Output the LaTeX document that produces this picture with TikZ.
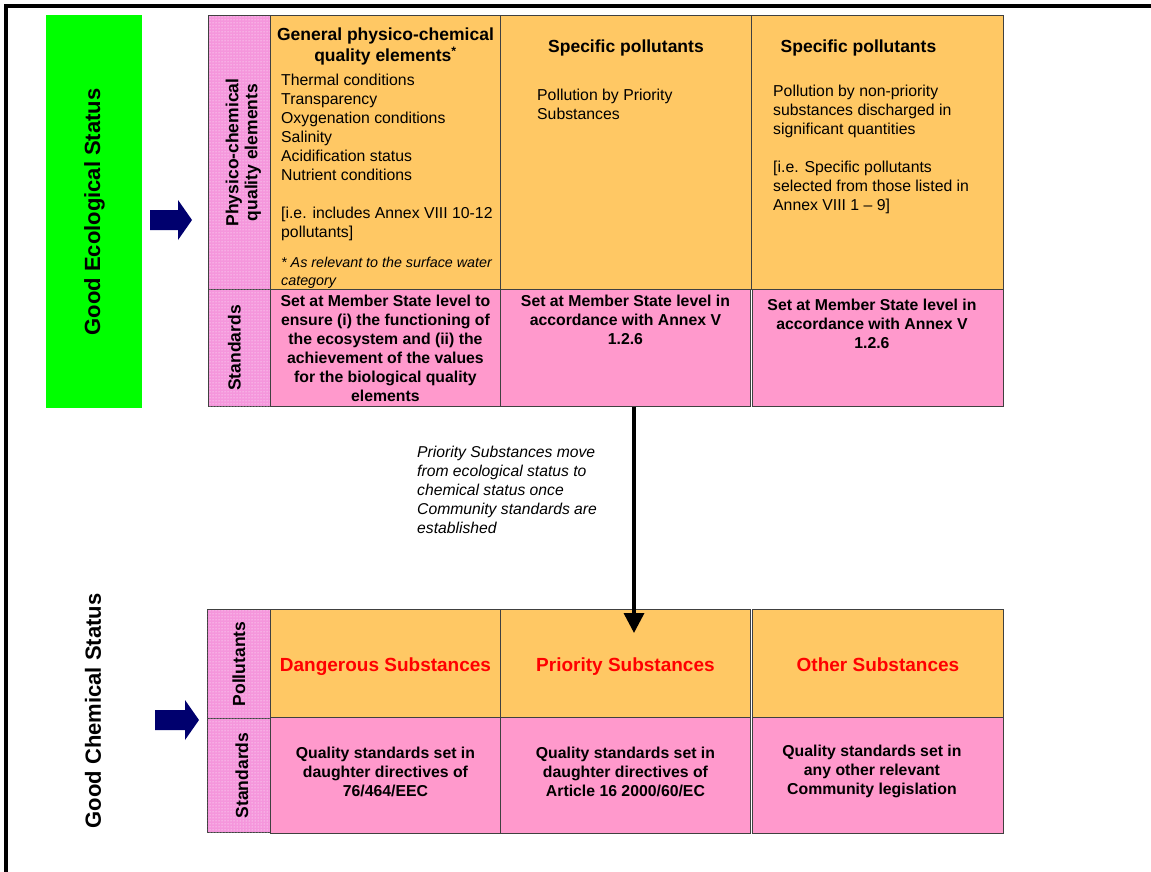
\documentclass[tikz,border=0pt]{standalone}
\usepackage{fontspec}
\setmainfont{Liberation Sans}
\usetikzlibrary{positioning,arrows.meta,patterns}

\definecolor{cellorange}{RGB}{255,200,100}
\definecolor{cellpink}{RGB}{255,153,204}
\definecolor{labpink}{RGB}{245,150,220}
\definecolor{navyarrow}{RGB}{0,0,110}
\definecolor{statusgreen}{RGB}{0,255,0}

\begin{document}
\begin{tikzpicture}[x=1pt,y=-1pt,
  cell/.style={draw=black!75,line width=0.9pt,anchor=north west,inner sep=0pt},
  ele/.style={cell,fill=cellorange},
  std/.style={cell,fill=cellpink},
  lab/.style={cell,fill=labpink,postaction={pattern=dots,pattern color=white}},
  labtxt/.style={rotate=90,font=\fontsize{17.5}{19}\selectfont\bfseries,align=center,inner sep=0pt},
  hd/.style={font=\fontsize{17.5}{21}\selectfont\bfseries,align=center,inner sep=0pt},
  body/.style={font=\fontsize{15.8}{19}\selectfont,align=left,inner sep=0pt},
  stdtxt/.style={font=\fontsize{15.8}{19}\selectfont\bfseries,align=center,inner sep=0pt},
  subst/.style={font=\fontsize{19}{23}\selectfont\bfseries,text=red,inner sep=0pt},
  status/.style={rotate=90,font=\fontsize{22}{26}\selectfont\bfseries,inner sep=0pt},
  note/.style={font=\fontsize{15.7}{19}\selectfont\itshape,align=left,anchor=north west,inner sep=0pt},
  blk/.style={fill=navyarrow},
  movearr/.style={-{Triangle[length=20pt,width=20pt]},line width=3.5pt}
]
\useasboundingbox (0,0) rectangle (1151,872);
\draw[line width=4pt] (6,872) |- (1151,6.5);

%% ---- ecological status: side bar and arrow ------------------------------
\node[cell,draw=none,fill=statusgreen,minimum width=96pt,minimum height=393pt] (eco) at (46,15) {};
\node[status] (ecotxt) at (eco.center) {Good Ecological Status};
\coordinate (a1) at (150,220);
\fill[blk] (a1) ++(0,-10) -- ++(28,0) -- ++(0,-10) -- ++(14,20) -- ++(-14,20) -- ++(0,-10) -- ++(-28,0) -- cycle;

%% ---- ecological table, row 1: quality elements --------------------------
\node[lab,minimum width=62pt,minimum height=274pt]  (lab1) at (208,15) {};
\node[ele,minimum width=230pt,minimum height=274pt] (e1)   at (270,15) {};
\node[ele,minimum width=251pt,minimum height=274pt] (e2)   at (500,15) {};
\node[ele,minimum width=252pt,minimum height=274pt] (e3)   at (751,15) {};
\node[labtxt,yshift=-4pt] at (lab1.center) {Physico-chemical\\quality elements};

\node[hd,below=12.5pt of e1.north] (e1h) {General physico-chemical\\quality elements\textsuperscript{*}};
\node[body,below right=59pt and 11pt of e1.north west] (e1b)
  {Thermal conditions\\Transparency\\Oxygenation conditions\\Salinity\\Acidification status\\Nutrient conditions\\[19pt][i.e. includes Annex VIII 10-12\\pollutants]};
\node[body,font=\fontsize{14.3}{18}\selectfont\itshape,below right=242pt and 11pt of e1.north west] (e1n)
  {* As relevant to the surface water\\category};

\node[hd,below=25pt of e2.north] (e2h) {Specific pollutants};
\node[body,below right=74pt and 37pt of e2.north west] (e2b) {Pollution by Priority\\Substances};

\node[hd,below=25pt of e3.north,xshift=-19pt] (e3h) {Specific pollutants};
\node[body,below right=70pt and 22pt of e3.north west] (e3b)
  {Pollution by non-priority\\substances discharged in\\significant quantities\\[19pt][i.e. Specific pollutants\\selected from those listed in\\Annex VIII 1 -- 9]};

%% ---- ecological table, row 2: standards ---------------------------------
\node[lab,minimum width=62pt,minimum height=117pt]  (lab2) at (208,289) {};
\node[std,minimum width=230pt,minimum height=117pt] (s1)   at (270,289) {};
\node[std,minimum width=250pt,minimum height=117pt] (s2)   at (500,289) {};
\node[std,minimum width=251pt,minimum height=117pt] (s3)   at (752,289) {};
\node[labtxt,yshift=5pt] at (lab2.center) {Standards};

\node[stdtxt,below=6pt of s1.north] (s1t)
  {Set at Member State level to\\ensure (i) the functioning of\\the ecosystem and (ii) the\\achievement of the values\\for the biological quality\\elements};
\node[stdtxt,below=6pt of s2.north] (s2t) {Set at Member State level in\\accordance with Annex V\\1.2.6};
\node[stdtxt,below=10pt of s3.north,xshift=-6pt] (s3t) {Set at Member State level in\\accordance with Annex V\\1.2.6};

%% ---- priority substances move down --------------------------------------
\node[note] (move) at (417,446)
  {Priority Substances move\\from ecological status to\\chemical status once\\Community standards are\\established};

%% ---- chemical status: label and arrow -----------------------------------
\node[status] (chemtxt) at (93,711) {Good Chemical Status};
\coordinate (a2) at (155,720);
\fill[blk] (a2) ++(0,-10) -- ++(30,0) -- ++(0,-10) -- ++(14,20) -- ++(-14,20) -- ++(0,-10) -- ++(-30,0) -- cycle;

%% ---- chemical table, row 1: pollutants ----------------------------------
\node[lab,minimum width=63pt,minimum height=109pt]  (lab3) at (207,609) {};
\node[ele,minimum width=230pt,minimum height=108pt] (c1)   at (270,609) {};
\node[ele,minimum width=250pt,minimum height=108pt] (c2)   at (500,609) {};
\node[ele,minimum width=251pt,minimum height=108pt] (c3)   at (752,609) {};
\node[labtxt] at (lab3.center) {Pollutants};
\node[subst,yshift=-3pt] (c1t) at (c1.center) {Dangerous Substances};
\node[subst,yshift=-3pt] (c2t) at (c2.center) {Priority Substances};
\node[subst,yshift=-1pt] (c3t) at (c3.center) {Other Substances};

%% ---- chemical table, row 2: standards -----------------------------------
\node[lab,minimum width=63pt,minimum height=114pt]  (lab4) at (207,718) {};
\node[std,minimum width=230pt,minimum height=116pt] (q1)   at (270,717) {};
\node[std,minimum width=250pt,minimum height=116pt] (q2)   at (500,717) {};
\node[std,minimum width=251pt,minimum height=116pt] (q3)   at (752,717) {};
\node[labtxt,yshift=-3pt] at (lab4.center) {Standards};
\node[stdtxt,yshift=4pt] (q1t) at (q1.center) {Quality standards set in\\daughter directives of\\76/464/EEC};
\node[stdtxt,yshift=4pt] (q2t) at (q2.center) {Quality standards set in\\daughter directives of\\Article 16 2000/60/EC};
\node[stdtxt,yshift=4pt,xshift=-6pt] (q3t) at (q3.center) {Quality standards set in\\any other relevant\\Community legislation};

\coordinate (tip) at (634,633);
\draw[movearr] (s2.south -| tip) -- (tip);
\end{tikzpicture}
\end{document}
